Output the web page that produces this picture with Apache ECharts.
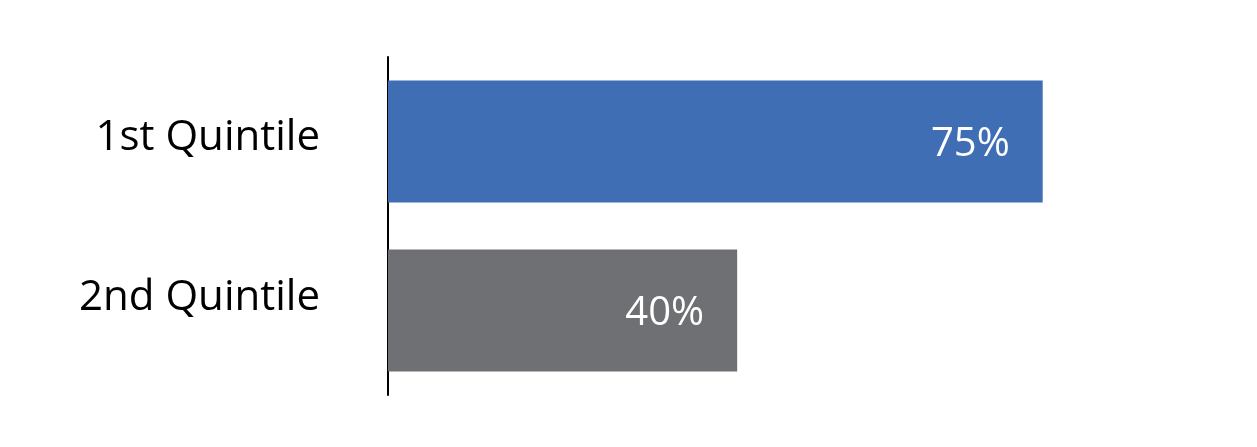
<!DOCTYPE html>
<html>
<head>
<meta charset="utf-8">
<script src="https://cdn.jsdelivr.net/npm/echarts@6/dist/echarts.min.js"></script>
<style>
  html, body { margin: 0; padding: 0; background: #fff; }
  #chart { width: 1257px; height: 447px; }
</style>
</head>
<body>
<div id="chart"></div>
<script>
// categories and values
var categories = ["1st Quintile", "2nd Quintile"];
var values = [75, 40];
var barColors = ["#406EB5", "#6F7073"];

var chart = echarts.init(document.getElementById("chart"));

var seriesData = values.map(function (v, i) {
    return { value: v, itemStyle: { color: barColors[i] } };
});

var option = {
    animation: false,
    grid: {
        left: 388,
        top: 57,
        right: 127,
        bottom: 52,
        containLabel: false
    },
    xAxis: {
        type: 'value',
        min: 0,
        max: 85,
        show: false
    },
    yAxis: {
        type: 'category',
        inverse: true,
        data: categories,
        axisLine: { show: true, lineStyle: { color: '#000', width: 2 } },
        axisTick: { show: false },
        axisLabel: {
            margin: 68,
            color: '#000',
            fontSize: 42,
            fontFamily: 'Open Sans',
            // labels sit a little above the bar centres in the original
            formatter: function (v, i) {
                return '{c' + i + '|' + v + '}';
            },
            rich: {
                c0: { fontSize: 42, fontFamily: 'Open Sans', color: '#000', padding: [0, 0, 7, 0] },
                c1: { fontSize: 42, fontFamily: 'Open Sans', color: '#000', padding: [0, 0, 24, 0] }
            }
        }
    },
    series: [{
        type: 'bar',
        data: seriesData,
        barWidth: 122,
        label: {
            show: true,
            position: 'insideRight',
            distance: 33,
            offset: [0, 3],
            color: '#fff',
            fontSize: 40,
            fontFamily: 'Open Sans',
            formatter: '{c}%'
        }
    }]
};
chart.setOption(option);
</script>
</body>
</html>
